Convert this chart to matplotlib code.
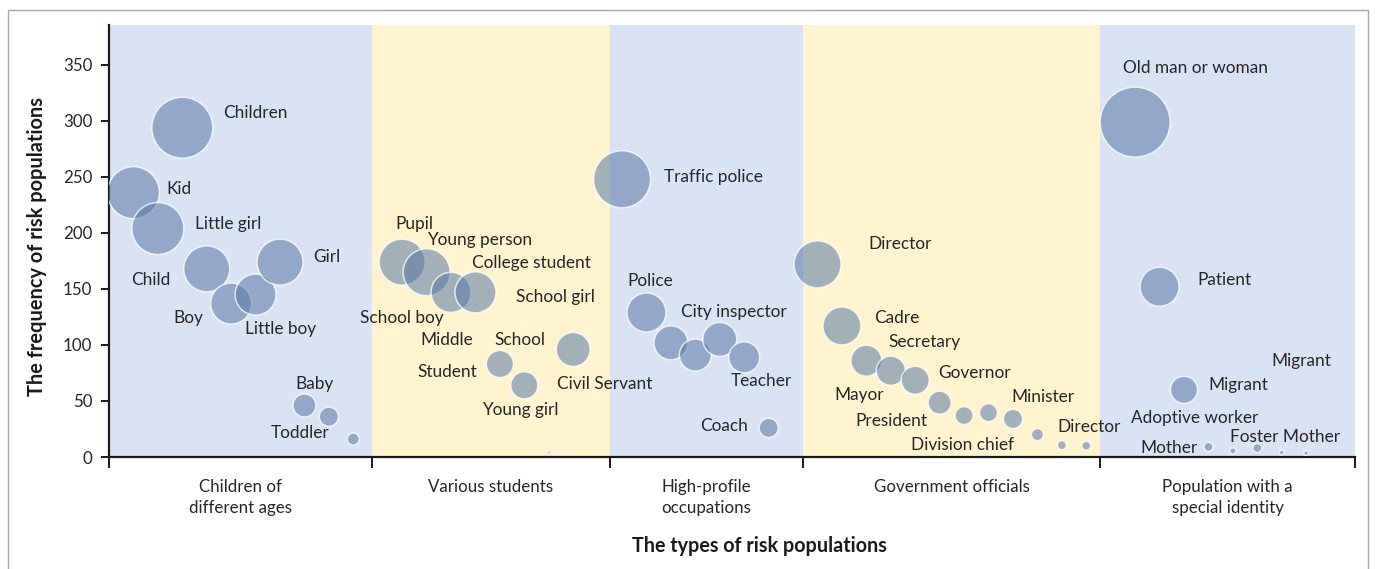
import numpy as np
import matplotlib
matplotlib.use("Agg")
import matplotlib.pyplot as plt
from matplotlib.patches import Rectangle

plt.rcParams['font.family'] = ['Lato', 'DejaVu Sans']

# ---------------- data ----------------
categories = ["Children of\ndifferent ages", "Various students", "High-profile\noccupations",
              "Government officials", "Population with a\nspecial identity"]
category_edges = [0, 10.77, 20.5, 28.39, 40.58, 51]

bubble_x = [1, 2, 3, 4, 5, 6, 7, 8, 9, 10,
            12, 13, 14, 15, 16, 17, 18, 19,
            21, 22, 23, 24, 25, 26, 27,
            29, 30, 31, 32, 33, 34, 35, 36, 37, 38, 39, 40,
            42, 43, 44, 45, 46, 47, 48, 49]
frequency = [236, 204, 294, 168, 137, 145, 174, 46, 36, 16,
             174, 165, 147, 147, 83, 64, 4, 96,
             248, 129, 102, 91, 105, 89, 26,
             172, 117, 86, 77, 68.5, 48.5, 37, 39.6, 34, 20, 10.5, 10,
             299, 152, 60, 9, 5.5, 8, 4, 3.5]
bubble_size = [169, 169, 232, 132, 105, 105, 132, 33, 23, 9,
               132, 138, 100, 105, 46, 46, 0.6, 72,
               203, 95, 72, 64, 72, 60, 23,
               138, 90, 60, 53, 49, 33, 20, 20, 23, 9, 5, 5,
               306, 95, 46, 5, 2.3, 5, 1.3, 1.3]

# labels: (text, index of bubble, dx px, dy px)
labels = [
    ("Kid", 0, 46, 4), ("Little girl", 1, 70, 5), ("Children", 2, 73, 15),
    ("Child", 3, -56, -11), ("Boy", 4, -43, -14), ("Little boy", 5, 25, -34),
    ("Girl", 6, 47, 5), ("Baby", 7, 10, 21), ("Toddler", 8, -29, -16),
    ("Pupil", 10, 12, 38), ("Young person", 11, 53, 32), ("College student", 13, 56, 29),
    ("School girl", 13, 80, -5), ("School boy", 12, -49, -26), ("Middle", 14, -53, 24),
    ("School", 14, 20, 24), ("Student", 14, -53, -8), ("Civil Servant", 17, 31, -35),
    ("Young girl", 15, -4, -25),
    ("Traffic police", 18, 91, 2), ("Police", 19, 4, 32), ("City inspector", 22, 14, 27),
    ("Teacher", 23, 17, -24), ("Coach", 24, -45, 2),
    ("Director", 25, 83, 20), ("Cadre", 26, 55, 8), ("Secretary", 27, 58, 19),
    ("Governor", 29, 59, 7), ("Mayor", 27, -7, -34), ("Minister", 33, 30, 22),
    ("President", 30, -48, -18), ("Director", 35, 27, 18), ("Division chief", 31, -2, -29),
    ("Old man or woman", 37, 60, 54), ("Patient", 38, 65, 7), ("Migrant", 39, 117, 29),
    ("Migrant", 39, 54, 5), ("Adoptive worker", 39, 11, -28), ("Foster Mother", 42, 28, 11),
    ("Mother", 40, -39, -1),
]

# ---------------- figure ----------------
W, H, DPI = 1375, 569, 100
fig = plt.figure(figsize=(W / DPI, H / DPI), dpi=DPI)
fig.patch.set_facecolor("white")
fig.add_artist(Rectangle((8 / W, -0.05), 1360 / W, 1 - 10 / H + 0.05, transform=fig.transFigure,
                         facecolor="none", edgecolor="#A6A6A6", linewidth=1.0))

ax = fig.add_axes([109 / W, 1 - 457 / H, (1355 - 109) / W, (457 - 25) / H])
ax.set_xlim(category_edges[0], category_edges[-1])
ax.set_ylim(0, 385.7)

band_colors = ["#DAE3F3", "#FFF4CF"]
for i in range(len(categories)):
    ax.axvspan(category_edges[i], category_edges[i + 1], color=band_colors[i % 2], zorder=0, lw=0)

px_per_unit = 4.0  # bubble diameter in px = 4*sqrt(size)
sizes_pt2 = [(px_per_unit * np.sqrt(s) * 72 / DPI) ** 2 for s in bubble_size]
ax.scatter(bubble_x, frequency, s=sizes_pt2, facecolor=(0.35, 0.47, 0.65, 0.55),
           edgecolor=(1, 1, 1, 0.75), linewidth=1.1, zorder=3)

for text, idx, dx, dy in labels:
    ax.annotate(text, (bubble_x[idx], frequency[idx]), xytext=(dx, dy),
                textcoords="offset pixels", ha="center", va="center",
                fontsize=12.4, color="#262626", zorder=4)

# axes styling
for side in ["top", "right"]:
    ax.spines[side].set_visible(False)
ax.spines["left"].set_linewidth(1.6)
ax.spines["bottom"].set_linewidth(1.6)
ax.spines["left"].set_color("#1a1a1a")
ax.spines["bottom"].set_color("#1a1a1a")

ax.set_yticks(np.arange(0, 351, 50))
ax.tick_params(axis="y", length=6, width=1.4, color="#1a1a1a", labelsize=12.2, labelcolor="#262626", pad=6)
ax.set_xticks(category_edges)
ax.set_xticklabels([])
ax.tick_params(axis="x", which="major", length=8, width=1.4, color="#1a1a1a")
centers = [(category_edges[i] + category_edges[i + 1]) / 2 for i in range(len(categories))]
ax.set_xticks(centers, minor=True)
ax.set_xticklabels(categories, minor=True, fontsize=12.2, color="#262626", linespacing=1.35)
ax.tick_params(axis="x", which="minor", length=0, pad=16)

ax.set_xlabel("The types of risk populations", fontsize=14.2, fontweight="bold", color="#1a1a1a",
              va="center")
ax.xaxis.set_label_coords((759.5 - 109) / 1246, -(546 - 457) / 432)
ax.set_ylabel("The frequency of risk populations", fontsize=14.4, fontweight="bold", color="#1a1a1a",
              va="center")
ax.yaxis.set_label_coords((37 - 109) / 1246, (457 - 246.5) / 432)

fig.savefig("out.png", dpi=DPI)
